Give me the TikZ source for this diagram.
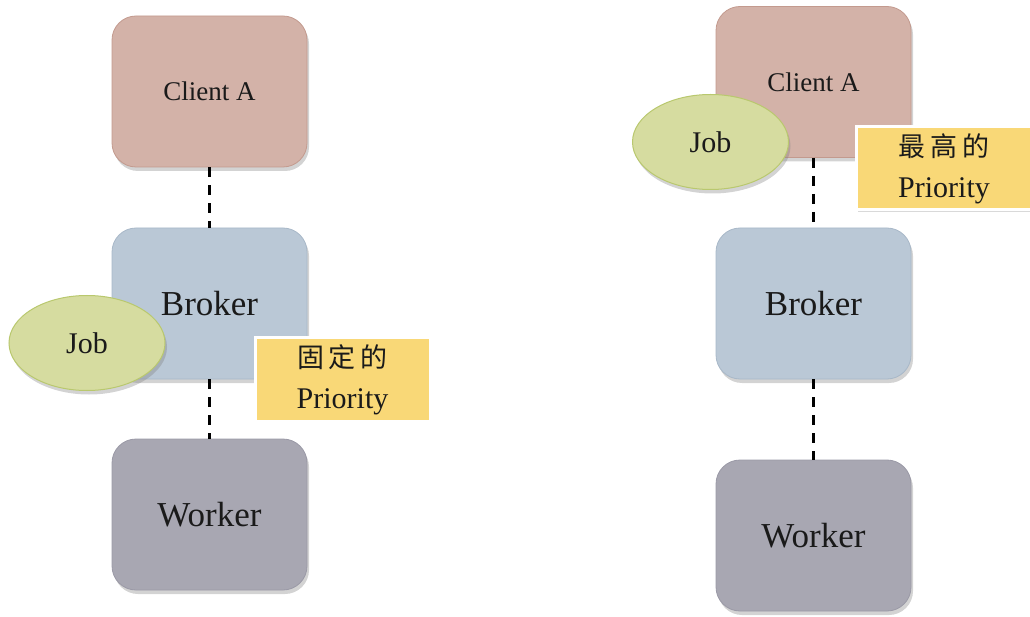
\documentclass[tikz,border=0pt]{standalone}
\usepackage{fontspec}
\setmainfont{Liberation Serif}
\newfontfamily\cjk{Noto Sans CJK TC}
\usetikzlibrary{shapes.geometric,shadows}

\definecolor{clientfill}{HTML}{D3B2A8}
\definecolor{clientedge}{HTML}{C39A8E}
\definecolor{brokerfill}{HTML}{BAC8D6}
\definecolor{brokeredge}{HTML}{A8B8C8}
\definecolor{workerfill}{HTML}{A8A7B2}
\definecolor{workeredge}{HTML}{9A99A6}
\definecolor{jobfill}{HTML}{D6DCA0}
\definecolor{jobedge}{HTML}{B9C86E}
\definecolor{prifill}{HTML}{F9D877}
\definecolor{inktext}{HTML}{1A1A1A}

\tikzset{
  softshadow/.style={drop shadow={opacity=0.35, shadow xshift=2pt, shadow yshift=-4pt}},
  tier/.style={rectangle, rounded corners=24pt, minimum width=195pt, minimum height=151pt,
    inner sep=0pt, line width=0.8pt, softshadow, text=inktext},
  clientbox/.style={tier, fill=clientfill, draw=clientedge, font=\fontsize{27}{32}\selectfont},
  brokerbox/.style={tier, fill=brokerfill, draw=brokeredge, font=\fontsize{35}{40}\selectfont},
  workerbox/.style={tier, fill=workerfill, draw=workeredge, font=\fontsize{35}{40}\selectfont},
  jobblob/.style={ellipse, minimum width=156pt, minimum height=95pt, inner sep=0pt,
    fill=jobfill, draw=jobedge, line width=1pt, softshadow, text=inktext,
    font=\fontsize{30}{34}\selectfont},
  prinote/.style={rectangle, minimum width=175pt, minimum height=83pt, inner sep=0pt,
    fill=prifill, draw=white, line width=3pt, align=center, text=inktext,
    drop shadow={opacity=0.3, shadow xshift=1.5pt, shadow yshift=-2pt},
    font=\fontsize{30}{41}\selectfont},
  link/.style={line width=3pt, dash pattern=on 10pt off 8pt, black}
}

\newcommand{\hanspace}{\hspace{5pt}}

\begin{document}
\begin{tikzpicture}[x=1pt,y=-1pt]
  \useasboundingbox (0,0) rectangle (1030,617);

  % ---- fixed priority set at the broker ----
  \node[clientbox] (ca1) at (209.5,91.5) {Client A};
  \node[brokerbox] (br1) at (209.5,303.5) {Broker};
  \node[workerbox] (wk1) at (209.5,514.5) {Worker};
  \draw[link] (ca1.south) -- (br1.north);
  \draw[link] (br1.south) -- (wk1.north);
  \node[jobblob] (job1) at (87,343) {Job};
  \node[prinote] (pri1) at (342.5,379.5) {{\cjk\fontsize{27}{41}\selectfont 固\hanspace 定\hanspace 的}\\Priority};

  % ---- highest priority set by the client ----
  \node[clientbox] (ca2) at (813.5,82) {Client A};
  \node[brokerbox] (br2) at (813.5,303.5) {Broker};
  \node[workerbox] (wk2) at (813.5,535.5) {Worker};
  \draw[link] (ca2.south) -- (br2.north);
  \draw[link] (br2.south) -- (wk2.north);
  \node[jobblob] (job2) at (710.5,142) {Job};
  \node[prinote] (pri2) at (944,168.5) {{\cjk\fontsize{27}{41}\selectfont 最\hanspace 高\hanspace 的}\\Priority};
\end{tikzpicture}
\end{document}
